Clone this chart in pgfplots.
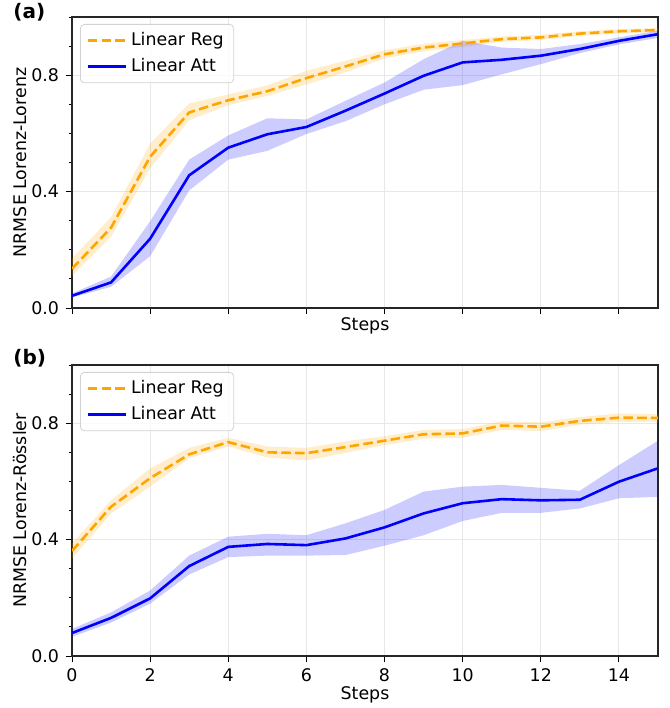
\documentclass[border=0pt]{standalone}
\usepackage{pgfplots}
\pgfplotsset{compat=1.18}
\usepackage{pgfplotstable}
\usepgfplotslibrary{fillbetween}
\usepackage{fontspec}
\setmainfont{DejaVu Sans}
\definecolor{mplorange}{HTML}{FFA500}
\definecolor{mplblue}{HTML}{0000FF}

\pgfplotstableread{
x m lo hi
0 0.135 0.110 0.170
1 0.276 0.245 0.312
2 0.520 0.480 0.565
3 0.672 0.645 0.703
4 0.714 0.697 0.734
5 0.745 0.729 0.765
6 0.790 0.768 0.815
7 0.830 0.810 0.850
8 0.872 0.858 0.886
9 0.895 0.882 0.908
10 0.909 0.897 0.921
11 0.924 0.915 0.933
12 0.930 0.921 0.939
13 0.943 0.935 0.951
14 0.951 0.944 0.958
15 0.955 0.948 0.962
}\regA
\pgfplotstableread{
x m lo hi
0 0.042 0.036 0.050
1 0.088 0.073 0.108
2 0.238 0.178 0.298
3 0.456 0.404 0.510
4 0.551 0.510 0.593
5 0.597 0.540 0.652
6 0.622 0.598 0.648
7 0.678 0.642 0.712
8 0.737 0.700 0.775
9 0.798 0.750 0.855
10 0.844 0.766 0.918
11 0.853 0.803 0.895
12 0.867 0.838 0.890
13 0.890 0.876 0.907
14 0.918 0.906 0.930
15 0.941 0.928 0.953
}\attA
\pgfplotstableread{
x m lo hi
0 0.361 0.335 0.387
1 0.513 0.490 0.535
2 0.611 0.582 0.645
3 0.693 0.680 0.715
4 0.735 0.720 0.750
5 0.700 0.682 0.720
6 0.697 0.672 0.715
7 0.718 0.698 0.738
8 0.740 0.725 0.755
9 0.762 0.747 0.777
10 0.765 0.750 0.780
11 0.792 0.777 0.807
12 0.788 0.773 0.803
13 0.808 0.795 0.821
14 0.819 0.805 0.833
15 0.818 0.805 0.831
}\regB
\pgfplotstableread{
x m lo hi
0 0.079 0.066 0.093
1 0.131 0.115 0.150
2 0.198 0.180 0.225
3 0.309 0.280 0.345
4 0.375 0.340 0.410
5 0.385 0.345 0.420
6 0.381 0.345 0.415
7 0.404 0.347 0.456
8 0.442 0.379 0.502
9 0.490 0.415 0.565
10 0.525 0.464 0.582
11 0.539 0.492 0.588
12 0.535 0.492 0.578
13 0.537 0.507 0.568
14 0.599 0.542 0.656
15 0.645 0.547 0.740
}\attB

\pgfplotsset{
  mystyle/.style={
    scale only axis,
    width=293pt, height=145.5pt,
    xmin=0, xmax=15, ymin=0, ymax=1.0,
    xtick={0,2,...,14},
    ytick={0,0.4,0.8},
    minor ytick={0.1,0.2,0.3,0.5,0.6,0.7,0.9,1.0},
    yticklabel style={/pgf/number format/.cd,fixed,fixed zerofill,precision=1},
    /pgf/number format/assume math mode=true,
    tick align=outside,
    tick pos=left,
    major tick length=3pt,
    minor tick length=1.7pt,
    every tick/.style={black, line width=0.5pt},
    axis line style={line width=0.6pt, black!85},
    grid=major,
    major grid style={gray!18, line width=0.5pt},
    font=\fontsize{8.7}{10}\selectfont,
    ticklabel style={font=\fontsize{8.7}{10}\selectfont},
    xlabel={Steps},
    legend cell align=left,
    legend style={
      at={(rel axis cs:0.0137,0.976)}, anchor=north west,
      draw=gray!35, rounded corners=2pt, fill=white, fill opacity=0.8, text opacity=1,
      font=\fontsize{8.7}{10}\selectfont,
      inner xsep=3pt, inner ysep=2pt, row sep=1pt,
    },
    legend image code/.code={\draw[#1] (0pt,0pt) -- (16pt,0pt); \path (0pt,0pt) -- (19pt,0pt);},
  },
  regline/.style={mplorange, line width=1.3pt, dash pattern=on 4.8pt off 2.1pt},
  attline/.style={mplblue, line width=1.3pt},
}

\begin{document}
\begin{tikzpicture}
\begin{axis}[mystyle, at={(0pt,0pt)}, anchor=south west,
  xticklabels={},
  ylabel={NRMSE Lorenz-Lorenz},
  every axis y label/.style={at={(rel axis cs:-0.0887,0.5)}, rotate=90, anchor=center, inner sep=0pt},
  every axis x label/.style={at={(rel axis cs:0.5,-0.062)}, anchor=center, inner sep=0pt},
]
\addplot[draw=none, name path=rAlo, forget plot] table[x=x, y=lo] {\regA};
\addplot[draw=none, name path=rAhi, forget plot] table[x=x, y=hi] {\regA};
\addplot[fill=mplorange, fill opacity=0.2, draw=none, forget plot] fill between[of=rAlo and rAhi];
\addplot[draw=none, name path=aAlo, forget plot] table[x=x, y=lo] {\attA};
\addplot[draw=none, name path=aAhi, forget plot] table[x=x, y=hi] {\attA};
\addplot[fill=mplblue, fill opacity=0.2, draw=none, forget plot] fill between[of=aAlo and aAhi];
\addplot[regline] table[x=x, y=m] {\regA};
\addlegendentry{Linear Reg}
\addplot[attline] table[x=x, y=m] {\attA};
\addlegendentry{Linear Att}
\end{axis}
\node[anchor=west, inner sep=0pt, font=\fontsize{10}{12}\selectfont\bfseries] at (-29.5pt,148pt) {(a)};
\begin{axis}[mystyle, at={(0pt,-174pt)}, anchor=south west,
  ylabel={NRMSE Lorenz-Rössler},
  every axis y label/.style={at={(rel axis cs:-0.0887,0.5)}, rotate=90, anchor=center, inner sep=0pt},
  every axis x label/.style={at={(rel axis cs:0.5,-0.135)}, anchor=center, inner sep=0pt},
]
\addplot[draw=none, name path=rBlo, forget plot] table[x=x, y=lo] {\regB};
\addplot[draw=none, name path=rBhi, forget plot] table[x=x, y=hi] {\regB};
\addplot[fill=mplorange, fill opacity=0.2, draw=none, forget plot] fill between[of=rBlo and rBhi];
\addplot[draw=none, name path=aBlo, forget plot] table[x=x, y=lo] {\attB};
\addplot[draw=none, name path=aBhi, forget plot] table[x=x, y=hi] {\attB};
\addplot[fill=mplblue, fill opacity=0.2, draw=none, forget plot] fill between[of=aBlo and aBhi];
\addplot[regline] table[x=x, y=m] {\regB};
\addlegendentry{Linear Reg}
\addplot[attline] table[x=x, y=m] {\attB};
\addlegendentry{Linear Att}
\end{axis}
\node[anchor=west, inner sep=0pt, font=\fontsize{10}{12}\selectfont\bfseries] at (-29.5pt,-25pt) {(b)};
\useasboundingbox (-36pt,-200pt) rectangle (299pt,154pt);
\end{tikzpicture}
\end{document}
